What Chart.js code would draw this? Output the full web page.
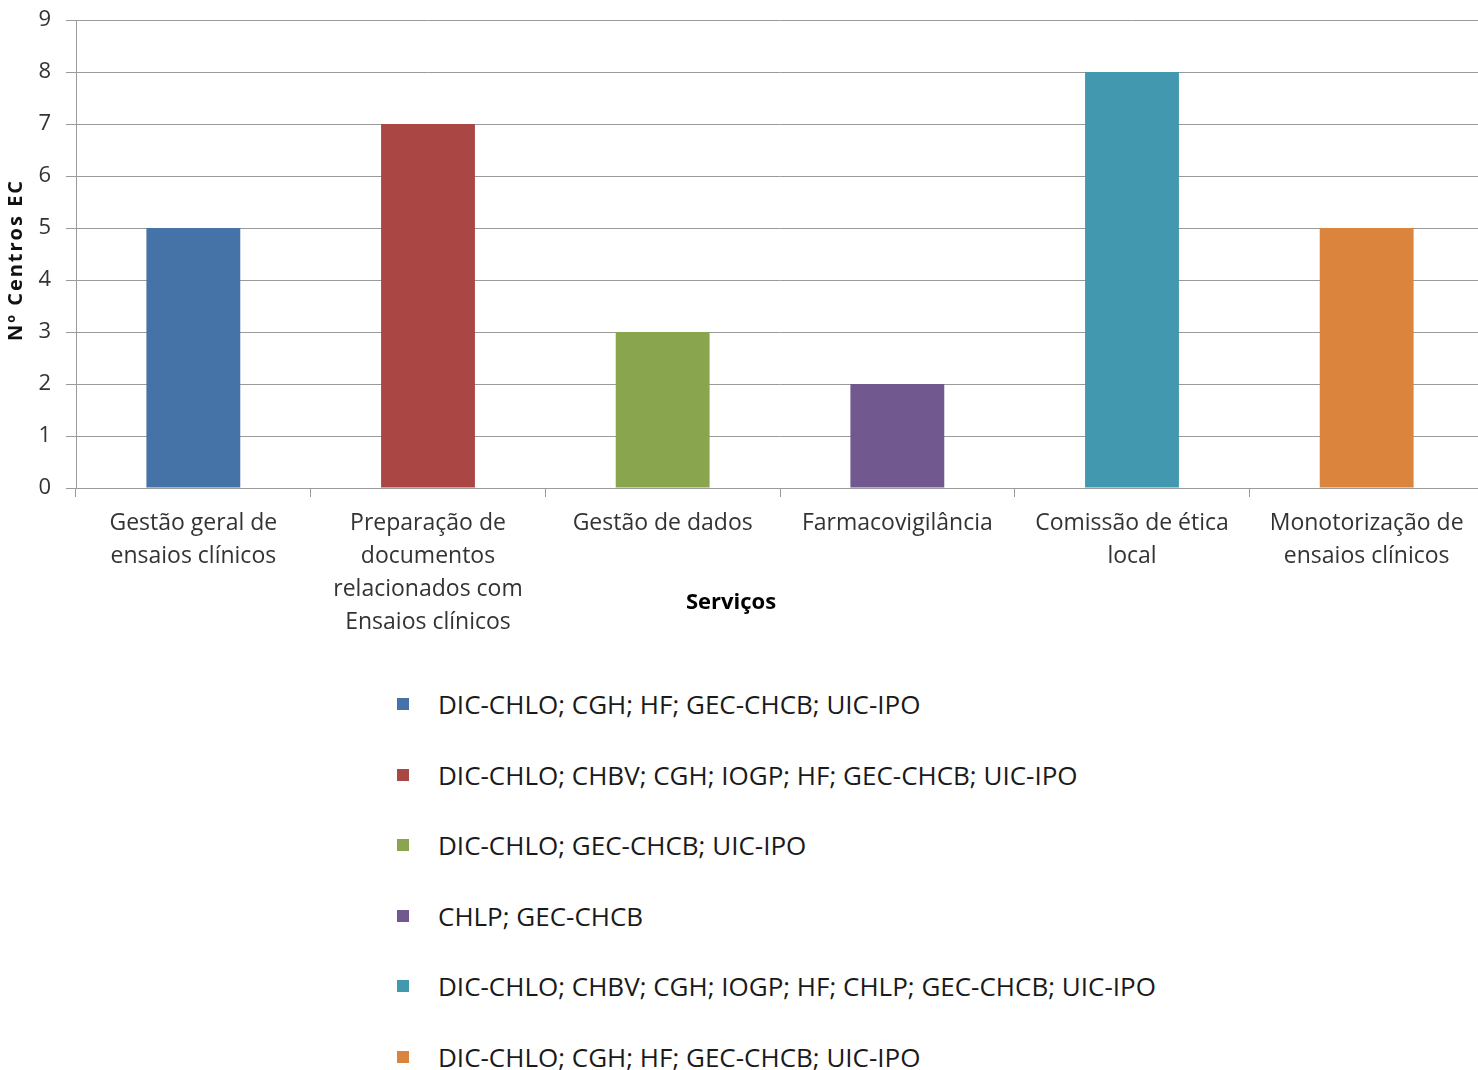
<!DOCTYPE html>
<html>
<head>
<meta charset="utf-8">
<script src="https://cdn.jsdelivr.net/npm/chart.js@4.4.1/dist/chart.umd.min.js"></script>
<style>
  html, body { margin: 0; padding: 0; background: #fff; }
  #wrap { position: relative; width: 1478px; height: 1070px; overflow: hidden; }
  #chartBox { position: absolute; left: 0; top: 0; width: 1484px; height: 650px; }
  #legend { position: absolute; left: 395px; top: 686px; margin: 0; padding: 0; list-style: none;
            font-family: "Open Sans", sans-serif; font-size: 26px; color: #1a1a1a; }
  #legend li { position: relative; height: 70.6px; line-height: 36px; padding-left: 43px; white-space: nowrap; letter-spacing: 0; }
  #legend li span.box { position: absolute; left: 2px; top: 12px; width: 12px; height: 12px; }
</style>
</head>
<body>
<div id="wrap">
  <div id="chartBox"><canvas id="c"></canvas></div>
  <ul id="legend"></ul>
</div>
<script>
// Serviços prestados e número de centros de ensaios clínicos
const categories = [
  ["Gestão geral de", "ensaios clínicos"],
  ["Preparação de", "documentos", "relacionados com", "Ensaios clínicos"],
  ["Gestão de dados"],
  ["Farmacovigilância"],
  ["Comissão de ética", "local"],
  ["Monotorização de", "ensaios clínicos"]
];
const centrosEC = [5, 7, 3, 2, 8, 5];
const centrosNomes = [
  "DIC-CHLO; CGH; HF; GEC-CHCB; UIC-IPO",
  "DIC-CHLO; CHBV; CGH; IOGP; HF; GEC-CHCB; UIC-IPO",
  "DIC-CHLO; GEC-CHCB; UIC-IPO",
  "CHLP; GEC-CHCB",
  "DIC-CHLO; CHBV; CGH; IOGP; HF; CHLP;  GEC-CHCB; UIC-IPO",
  "DIC-CHLO; CGH; HF; GEC-CHCB; UIC-IPO"
];
const barColors = ["#4572A7", "#AA4643", "#89A54E", "#71588F", "#4198AF", "#DB843D"];
const yTicks = [0, 1, 2, 3, 4, 5, 6, 7, 8, 9];

const FONT = '"Open Sans", sans-serif';

// Axis titles: "Serviços" sits left of the plot centre, overlapping the label block;
// the vertical title is letter-spaced.
const titlesPlugin = {
  id: 'axisTitles',
  afterDraw(chart) {
    const ctx = chart.ctx;
    const area = chart.chartArea;
    ctx.save();
    ctx.font = 'bold 22px ' + FONT;
    ctx.fillStyle = '#000';
    ctx.textAlign = 'center';
    ctx.textBaseline = 'middle';
    ctx.fillText('Serviços', 731, 603);
    ctx.restore();

    ctx.save();
    ctx.translate(16, (area.top + area.bottom) / 2 + 6);
    ctx.rotate(-Math.PI / 2);
    ctx.font = 'bold 20px ' + FONT;
    ctx.letterSpacing = '2px';
    ctx.fillStyle = '#111';
    ctx.textAlign = 'center';
    ctx.textBaseline = 'middle';
    ctx.fillText('Nº Centros EC', 0, 0);
    ctx.restore();
  }
};

function noScalePadding(scale) {
  scale.paddingTop = 0;
  scale.paddingBottom = 0;
}

new Chart(document.getElementById('c'), {
  type: 'bar',
  data: {
    labels: categories,
    datasets: [{
      data: centrosEC,
      backgroundColor: barColors,
      borderWidth: 0,
      barPercentage: 0.4,
      categoryPercentage: 1.0
    }]
  },
  options: {
    responsive: true,
    maintainAspectRatio: false,
    animation: false,
    layout: { padding: { top: 20, right: 0, left: 0, bottom: 0 } },
    plugins: { legend: { display: false }, tooltip: { enabled: false } },
    scales: {
      x: {
        offset: true,
        grid: { display: true, drawOnChartArea: false, drawTicks: true, tickLength: 9, color: '#9a9a9a', lineWidth: 1, offset: true },
        border: { display: true, color: '#9a9a9a', width: 1 },
        ticks: { color: '#333', font: { family: FONT, size: 23, lineHeight: 1.43 }, padding: 10, maxRotation: 0, autoSkip: false },
        afterFit(scale) { scale.height = 162; }
      },
      y: {
        min: 0, max: 9,
        afterBuildTicks(scale) { scale.ticks = yTicks.map(v => ({ value: v })); },
        grid: { color: '#9a9a9a', lineWidth: 1, tickLength: 10, drawTicks: true },
        border: { display: true, color: '#9a9a9a', width: 1 },
        ticks: { color: '#333', font: { family: FONT, size: 22 }, padding: 15 },
        title: { display: false },
        afterFit(scale) { scale.width = 76; noScalePadding(scale); }
      }
    }
  },
  plugins: [titlesPlugin]
});

// Legend: one entry per bar colour, listing the centres
const legend = document.getElementById('legend');
centrosNomes.forEach((txt, i) => {
  const li = document.createElement('li');
  const box = document.createElement('span');
  box.className = 'box';
  box.style.background = barColors[i];
  li.appendChild(box);
  li.appendChild(document.createTextNode(txt));
  legend.appendChild(li);
});
</script>
</body>
</html>
